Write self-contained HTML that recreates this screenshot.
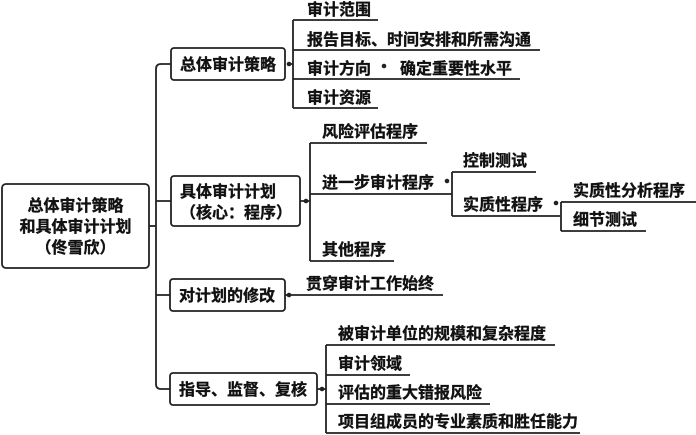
<!DOCTYPE html>
<html><head><meta charset="utf-8"><style>
html,body{margin:0;padding:0;background:#fff;}
svg{display:block;}
text{font-family:"Liberation Sans","Noto Sans CJK SC",sans-serif;font-weight:bold;font-size:16px;fill:#111;stroke:#111;stroke-width:0.35px;}
</style></head><body>
<svg width="696" height="435" viewBox="0 0 696 435" xmlns="http://www.w3.org/2000/svg">
<g fill="none" stroke="#222" stroke-width="1.8">
<rect x="2" y="184" width="147" height="84" rx="4"/>
<path d="M149 226 H156"/>
<path d="M171 64 H161 Q156 64 156 69 V384 Q156 389 161 389 H170"/>
<path d="M156 201 H171 M156 295 H170"/>
<rect x="171" y="48" width="114" height="32" rx="3"/>
<rect x="171" y="176" width="129" height="50" rx="3"/>
<rect x="170" y="279" width="115" height="32" rx="3"/>
<rect x="170" y="373" width="147" height="32" rx="3"/>
<path d="M289 64 H293 M293 20 V108 M293 20 H378 M293 50 H540 M293 79 H520 M293 108 H378"/>
<path d="M300 201 H310 M310 143 V261 M310 143 H427 M310 194 H452 M310 261 H394"/>
<path d="M452 172 V216 M452 172 H536 M452 216 H560"/>
<path d="M561 202 V231 M561 202 H696 M561 231 H646"/>
<path d="M285 295 H443"/>
<path d="M317 389 H326 M326 345 V433 M326 345 H555 M326 375 H410 M326 404 H490 M326 433 H580"/>
</g>
<g fill="#222">
<circle cx="289" cy="64" r="2.3"/>
<circle cx="306" cy="201" r="2.3"/>
<circle cx="447" cy="181" r="2.3"/>
<circle cx="556" cy="203" r="2.3"/>
<circle cx="289" cy="295" r="2.3"/>
<circle cx="322" cy="389" r="2.3"/>
<circle cx="384" cy="66" r="2.3"/>
</g>
<text x="75.5" y="211" text-anchor="middle">总体审计策略</text>
<text x="75.5" y="232" text-anchor="middle">和具体审计计划</text>
<text x="75.5" y="253" text-anchor="middle">（佟雪欣）</text>
<text x="180" y="70">总体审计策略</text>
<text x="180" y="197">具体审计计划</text>
<text x="180" y="218">（核心：程序）</text>
<text x="179" y="301">对计划的修改</text>
<text x="179" y="395">指导、监督、复核</text>
<text x="307" y="15">审计范围</text>
<text x="307" y="45">报告目标、时间安排和所需沟通</text>
<text x="307" y="74">审计方向</text>
<text x="400" y="74">确定重要性水平</text>
<text x="307" y="103">审计资源</text>
<text x="322" y="137">风险评估程序</text>
<text x="322" y="188">进一步审计程序</text>
<text x="322" y="255">其他程序</text>
<text x="463" y="166">控制测试</text>
<text x="463" y="210">实质性程序</text>
<text x="573" y="196">实质性分析程序</text>
<text x="573" y="225">细节测试</text>
<text x="306" y="289">贯穿审计工作始终</text>
<text x="338" y="339">被审计单位的规模和复杂程度</text>
<text x="338" y="369">审计领域</text>
<text x="338" y="398">评估的重大错报风险</text>
<text x="338" y="427">项目组成员的专业素质和胜任能力</text>
</svg>
</body></html>
